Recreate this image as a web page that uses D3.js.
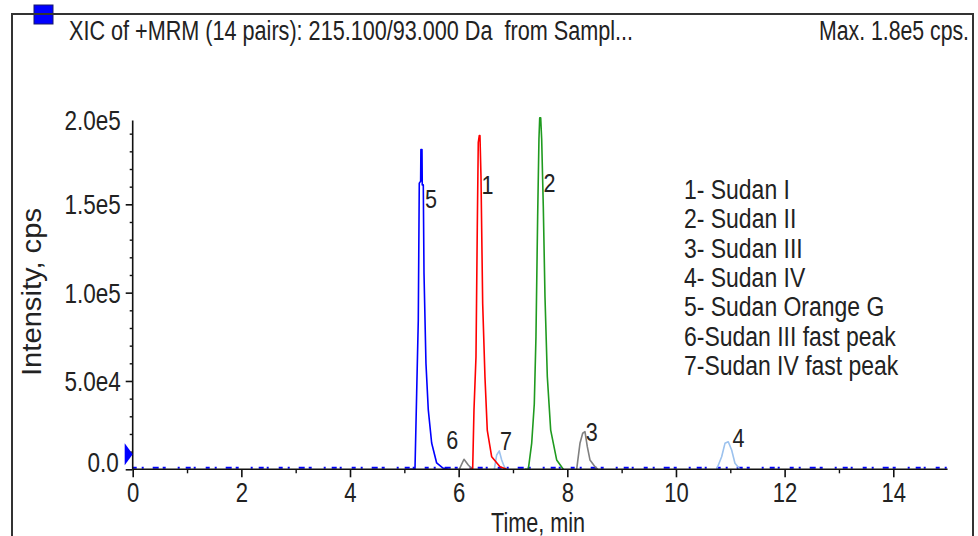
<!DOCTYPE html>
<html>
<head>
<meta charset="utf-8">
<script src="https://cdn.jsdelivr.net/npm/d3@7"></script>
<style>
  html, body { margin: 0; padding: 0; background: #fff; }
  svg { display: block; }
  text { font-family: "Liberation Sans", Arial, sans-serif; fill: #222; white-space: pre; }
</style>
</head>
<body>
<svg id="chart" width="978" height="536"></svg>
<script>
// ---------- data ----------
const xTicks = [0, 2, 4, 6, 8, 10, 12, 14];
const xMinorTicks = [1, 3, 5, 7, 9, 11, 13];
const yTicks = [0, 50000, 100000, 150000, 200000];
const yTickLabels = ["0.0", "5.0e4", "1.0e5", "1.5e5", "2.0e5"];
const yMinorTicks = [10000, 20000, 30000, 40000, 60000, 70000, 80000, 90000,
  110000, 120000, 130000, 140000, 160000, 170000, 180000, 190000];

// [time (min), intensity (cps)]
const trace5 = [[5.10,0],[5.196,0],[5.227,43000],[5.257,84500],[5.275,162000],[5.300,163000],[5.305,181000],[5.325,181000],[5.330,161000],[5.349,161000],[5.362,111000],[5.398,60000],[5.441,33600],[5.503,14900],[5.595,3600],[5.711,700],[5.80,0]];
const trace1 = [[6.20,0],[6.258,0],[6.282,33600],[6.319,63700],[6.343,137000],[6.361,185000],[6.380,189000],[6.392,189000],[6.411,165600],[6.442,94000],[6.484,52400],[6.527,22000],[6.608,7100],[6.761,1500],[6.884,0]];
const trace2 = [[7.22,0],[7.282,0],[7.344,14700],[7.392,37000],[7.423,75000],[7.454,143000],[7.478,187000],[7.492,199000],[7.510,199000],[7.528,187000],[7.558,148600],[7.589,97700],[7.632,52400],[7.694,22200],[7.804,5300],[7.926,0]];
const trace3 = [[8.172,0],[8.233,14700],[8.283,20400],[8.325,21300],[8.368,12800],[8.417,5300],[8.510,1500],[8.56,0]];
const trace4 = [[10.749,0],[10.841,7100],[10.902,14700],[10.963,15600],[11.025,10900],[11.086,3400],[11.178,0]];
const trace6 = [[6.011,0],[6.098,5700],[6.177,2400],[6.221,1000],[6.25,0]];
const trace7 = [[6.656,0],[6.700,8100],[6.748,10400],[6.792,5300],[6.834,1900],[6.87,0]];

const peakLabels = ["5", "1", "2", "3", "4", "6", "7"];
const peakLabelTimes = [5.49, 6.53, 7.67, 8.45, 11.15, 5.88, 6.87];
const peakLabelValues = [153000, 161000, 162000, 21000, 18000, 16500, 16000];

const legendItems = ["1- Sudan I", "2- Sudan II", "3- Sudan III", "4- Sudan IV",
  "5- Sudan Orange G", "6-Sudan III fast peak", "7-Sudan IV fast peak"];

const titleText = "XIC of +MRM (14 pairs): 215.100/93.000 Da  from Sampl...";
const maxText = "Max. 1.8e5 cps.";

// ---------- drawing ----------
const svg = d3.select("#chart");
const x = d3.scaleLinear().domain([0, 15]).range([132.7, 947.6]);
const y = d3.scaleLinear().domain([0, 200000]).range([469.3, 116]);

function squeeze(sel, factor) {
  sel.each(function () {
    const L = this.getComputedTextLength();
    this.setAttribute("textLength", (L * factor).toFixed(1));
    this.setAttribute("lengthAdjust", "spacingAndGlyphs");
  });
}

// header
svg.append("rect").attr("x", 34).attr("y", 5).attr("width", 19).attr("height", 19)
  .attr("fill", "#0000ff").attr("stroke", "#1a1a6a").attr("stroke-width", 1);
svg.append("text").attr("x", 69).attr("y", 40).attr("font-size", 27).text(titleText)
  .attr("textLength", 564).attr("lengthAdjust", "spacingAndGlyphs");
svg.append("text").attr("x", 819).attr("y", 40).attr("font-size", 27).text(maxText)
  .attr("textLength", 150).attr("lengthAdjust", "spacingAndGlyphs");

// baseline noise (blue trace near zero)
svg.append("line").attr("x1", x(0)).attr("x2", x(15)).attr("y1", y(900)).attr("y2", y(900))
  .attr("stroke", "#0000ff").attr("stroke-width", 2)
  .attr("stroke-dasharray", "4 5 2 9 6 4 3 12 2 6 5 3 2 10");

// traces
const line = d3.line().x(d => x(d[0])).y(d => y(d[1]));
const traces = [
  [trace6, "#808080"], [trace3, "#808080"], [trace7, "#9cc2ee"], [trace4, "#9cc2ee"],
  [trace2, "#1f9a1f"], [trace1, "#ff0000"], [trace5, "#0000ff"]
];
traces.forEach(([data, color]) => {
  svg.append("path").datum(data).attr("d", line)
    .attr("fill", "none").attr("stroke", color).attr("stroke-width", 1.6)
    .attr("stroke-linejoin", "round");
});

// axes
const axisColor = "#111";
const gx = svg.append("g").attr("transform", `translate(0,${y(0)})`);
gx.call(d3.axisBottom(x).tickValues(xTicks).tickSize(8).tickSizeOuter(0).tickFormat(d3.format("d")));
gx.select(".domain").remove();
gx.append("line").attr("x1", x(0)).attr("x2", x(15)).attr("stroke", axisColor).attr("stroke-width", 1.6);
gx.selectAll(".tick line").attr("stroke", axisColor).attr("stroke-width", 1.6);
gx.selectAll(".tick text").attr("y", 33).attr("dy", null).attr("font-size", 27)
  .attr("font-family", '"Liberation Sans", Arial, sans-serif').attr("fill", "#222")
  .call(squeeze, 0.815);
const gxm = svg.append("g").attr("transform", `translate(0,${y(0)})`);
gxm.call(d3.axisBottom(x).tickValues(xMinorTicks).tickSize(4).tickFormat(""));
gxm.select(".domain").remove();
gxm.selectAll(".tick line").attr("stroke", axisColor).attr("stroke-width", 1.4);

const gy = svg.append("g").attr("transform", `translate(${x(0)},0)`);
gy.call(d3.axisLeft(y).tickValues(yTicks).tickSize(7).tickSizeOuter(0)
  .tickFormat((d, i) => yTickLabels[i]));
gy.select(".domain").remove();
gy.append("line").attr("y1", y(0)).attr("y2", y(197500)).attr("stroke", axisColor).attr("stroke-width", 1.6);
gy.selectAll(".tick line").attr("stroke", axisColor).attr("stroke-width", 1.6);
gy.selectAll(".tick text").attr("x", -12).attr("dy", "0.35em").attr("font-size", 27)
  .attr("font-family", '"Liberation Sans", Arial, sans-serif').attr("fill", "#222")
  .attr("transform", d => d === 0 ? "translate(-2,-7)" : (d === 200000 ? "translate(0,4)" : null))
  .call(squeeze, 0.833);
gy.selectAll(".tick").filter(d => d === 200000).select("line").remove();
const gym = svg.append("g").attr("transform", `translate(${x(0)},0)`);
gym.call(d3.axisLeft(y).tickValues(yMinorTicks).tickSize(3).tickFormat(""));
gym.select(".domain").remove();
gym.selectAll(".tick line").attr("stroke", axisColor).attr("stroke-width", 1.4);

// start marker at y-axis
svg.append("path")
  .attr("d", `M${x(0) - 8},${y(0) - 26} L${x(0) - 8},${y(0) - 4} L${x(0)},${y(0) - 15} Z`)
  .attr("fill", "#0000ff");

// axis titles
svg.append("text").attr("x", 538).attr("y", 532).attr("text-anchor", "middle")
  .attr("font-size", 27).text("Time, min")
  .attr("textLength", 94).attr("lengthAdjust", "spacingAndGlyphs");
svg.append("text").attr("transform", "translate(41,292) rotate(-90)")
  .attr("text-anchor", "middle").attr("font-size", 27).text("Intensity, cps")
  .attr("textLength", 168).attr("lengthAdjust", "spacingAndGlyphs");

// peak labels
svg.append("g").selectAll("text").data(peakLabels).join("text")
  .attr("x", (d, i) => x(peakLabelTimes[i]))
  .attr("y", (d, i) => y(peakLabelValues[i]))
  .attr("text-anchor", "middle").attr("dy", "0.35em").attr("font-size", 26)
  .text(d => d).call(squeeze, 0.83);

// legend
svg.append("g").selectAll("text").data(legendItems).join("text")
  .attr("x", 684).attr("y", (d, i) => 199 + i * 29.3)
  .attr("font-size", 27).text(d => d).call(squeeze, 0.85);

// frame
svg.append("rect").attr("x", 12).attr("y", 14).attr("width", 961).attr("height", 540)
  .attr("fill", "none").attr("stroke", "#333").attr("stroke-width", 2);
</script>
</body>
</html>
